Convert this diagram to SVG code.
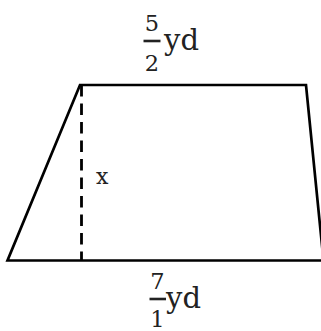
<svg xmlns="http://www.w3.org/2000/svg" width="321" height="331" viewBox="0 0 321 331">
<style>
.edge{fill:none;stroke:#000;stroke-width:2.7;stroke-linejoin:miter}
.dash{fill:none;stroke:#000;stroke-width:2.8;stroke-dasharray:11.5 7}
.num{font-family:"DejaVu Serif","Liberation Serif",serif;font-size:22.5px;fill:#222;text-anchor:middle}
.unit{font-family:"DejaVu Serif","Liberation Serif",serif;font-size:29px;fill:#222}
.lbl{font-family:"DejaVu Serif","Liberation Serif",serif;font-size:22px;fill:#222}
.bar{stroke:#222;stroke-width:2.6}
</style>
<rect width="321" height="331" fill="#fff"/>
<g id="trapezoid">
<polygon class="edge" points="80,85 306,85 323.5,260.5 7.5,260.5"/>
</g>
<g id="connectors">
<line class="dash" x1="81.5" y1="85" x2="81.5" y2="260"/>
</g>
<g id="label-top">
<text class="num" x="152" y="30.5">5</text>
<line class="bar" x1="143.5" y1="41" x2="160.5" y2="41"/>
<text class="num" x="152" y="70.5">2</text>
<text class="unit" x="164" y="50">yd</text>
</g>
<g id="label-height">
<text class="lbl" x="96" y="183.5">x</text>
</g>
<g id="label-bottom">
<text class="num" x="157.5" y="289">7</text>
<line class="bar" x1="149.5" y1="299" x2="166" y2="299"/>
<text class="num" x="157.5" y="326.5">1</text>
<text class="unit" x="166" y="308">yd</text>
</g>
</svg>
